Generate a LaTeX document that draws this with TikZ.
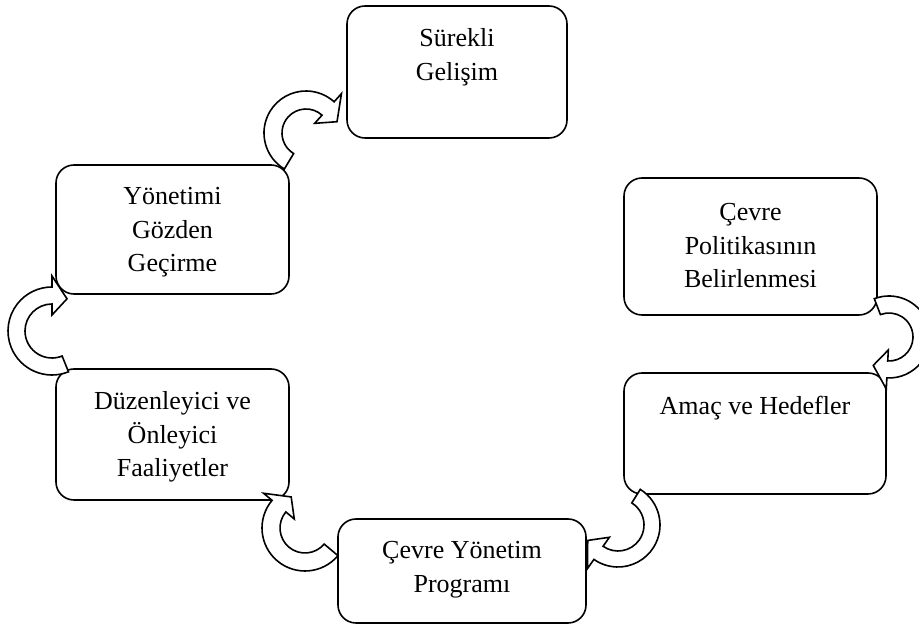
\documentclass[tikz,border=0pt]{standalone}
\usepackage{fontspec}
\setmainfont{Liberation Serif}
\usetikzlibrary{calc}
\tikzset{
  box/.style={draw, line width=1.6pt, rounded corners=18pt, inner sep=0pt},
  txt/.style={anchor=base, align=flush center, inner sep=0pt, text width=#1,
    font=\fontsize{26}{33.5}\selectfont},
  cyc/.style={draw, fill=white, line width=1.6pt, line join=miter}
}
% center x, center y, inner radius, outer radius, start angle, end angle, tip offset
\newcommand{\cycarrow}[7]{%
  \begin{scope}[shift={(#1,#2)}]
    \pgfmathsetmacro\cycRi{#3}
    \pgfmathsetmacro\cycRo{#4}
    \pgfmathsetmacro\cycRm{(#3+#4)/2}
    \pgfmathsetmacro\cycB{\cycRm+(#4-#3)/2+11}
    \pgfmathsetmacro\cycb{\cycRm-(#4-#3)/2-11}
    \pgfmathsetmacro\cycT{#6-#7}
    \path[cyc] (#5:\cycRo) arc[start angle=#5, end angle=#6, radius=\cycRo]
      -- (#6:\cycB) -- (\cycT:\cycRm) -- (#6:\cycb) -- (#6:\cycRi)
      arc[start angle=#6, end angle=#5, radius=\cycRi] -- cycle;
  \end{scope}}
\begin{document}
\begin{tikzpicture}[x=1pt, y=1pt]
\useasboundingbox (0,0) rectangle (919,626);
\clip (0,0) rectangle (919,626);

% boxes
\node[box, minimum width=220, minimum height=132] (surekli) at (457,554) {};
\node[box, minimum width=233, minimum height=129] (yonetimi) at (172.5,396.5) {};
\node[box, minimum width=253, minimum height=137] (politika) at (750.5,379.5) {};
\node[box, minimum width=262, minimum height=121] (amac) at (755,192.5) {};
\node[box, minimum width=233, minimum height=131] (duzen) at (172.5,191.5) {};
\node[box, minimum width=248, minimum height=104] (program) at (462,55) {};

% texts
\node[txt=210pt] (t1) at (457,579) {Sürekli\\Gelişim};
\node[txt=220pt] (t2) at (172.5,421) {Yönetimi\\Gözden\\Geçirme};
\node[txt=240pt] (t3) at (750.5,405) {Çevre\\Politikasının\\Belirlenmesi};
\node[txt=250pt] (t4) at (755,211) {Amaç ve Hedefler};
\node[txt=225pt] (t5) at (172.5,216) {Düzenleyici ve\\Önleyici\\Faaliyetler};
\node[txt=240pt] (t6) at (462,67) {Çevre Yönetim\\Programı};

% curved block arrows (clockwise cycle)
\cycarrow{889}{289}{24}{41}{111}{-93}{26}   % politika -> amac
\cycarrow{618}{101}{26}{42}{58}{-125}{28}   % amac -> program
\cycarrow{305}{98}{25}{43}{-40}{-220}{26}   % program -> duzen
\cycarrow{52}{295}{27}{44}{292}{90}{25}     % duzen -> yonetimi
\cycarrow{306}{493}{24}{42}{239}{48}{28}    % yonetimi -> surekli
\end{tikzpicture}
\end{document}
